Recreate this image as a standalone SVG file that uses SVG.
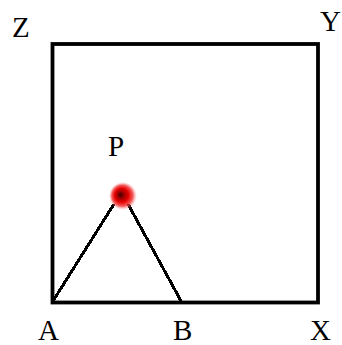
<svg xmlns="http://www.w3.org/2000/svg" width="342" height="345" viewBox="0 0 342 345">
<style>
.lbl{font-family:'Times New Roman',Times,'Liberation Serif',Tinos,'DejaVu Serif',serif;font-size:29px;fill:#000}
.edge{stroke:#000;stroke-width:3;fill:none;shape-rendering:crispEdges}
</style>
<defs>
<radialGradient id="dotg" cx="0.5" cy="0.5" r="0.5" fx="0.4" fy="0.45">
<stop offset="0" stop-color="#3a0000"/>
<stop offset="0.25" stop-color="#a00000"/>
<stop offset="0.5" stop-color="#e80000"/>
<stop offset="0.75" stop-color="#f03030" stop-opacity="0.8"/>
<stop offset="1" stop-color="#ff9090" stop-opacity="0"/>
</radialGradient>
</defs>
<rect width="342" height="345" fill="#fff"/>
<g id="frame">
<rect x="52.5" y="44" width="265.5" height="258.5" fill="none" stroke="#000" stroke-width="3.8"/>
</g>
<g id="connectors">
<line class="edge" x1="53" y1="301" x2="114" y2="204"/>
<line class="edge" x1="128" y1="204" x2="181" y2="301"/>
</g>
<g id="nodeP">
<circle cx="123" cy="196" r="14" fill="url(#dotg)"/>
<text class="lbl" x="108" y="156">P</text>
</g>
<g id="nodeZ"><text class="lbl" x="12" y="37">Z</text></g>
<g id="nodeY"><text class="lbl" x="320" y="31">Y</text></g>
<g id="nodeA"><text class="lbl" x="38" y="340">A</text></g>
<g id="nodeB"><text class="lbl" x="173" y="340">B</text></g>
<g id="nodeX"><text class="lbl" x="310" y="340">X</text></g>
</svg>
